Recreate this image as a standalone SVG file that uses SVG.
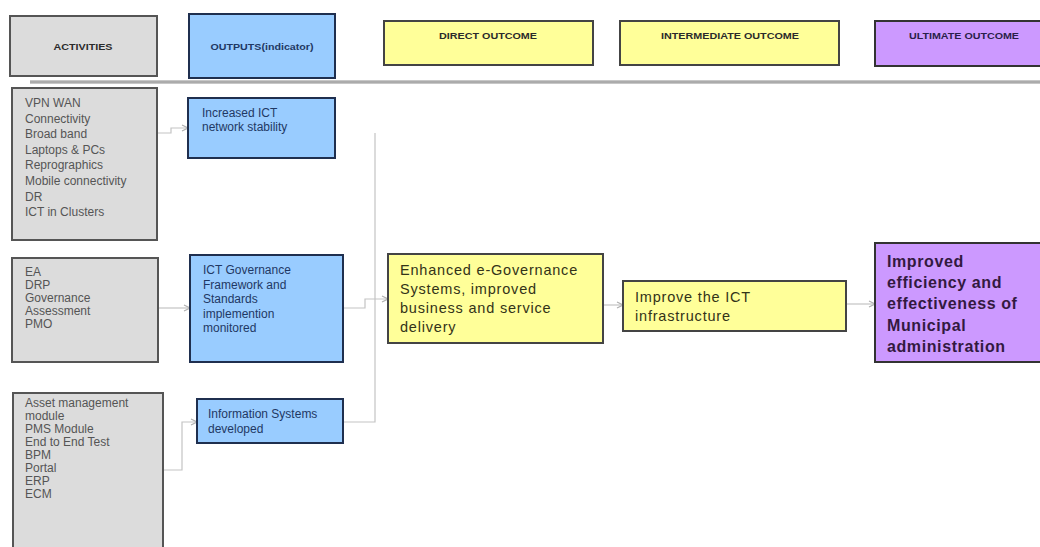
<svg xmlns="http://www.w3.org/2000/svg" width="1040" height="547" viewBox="0 0 1040 547">
  <style>
    .act { fill: #dcdcdc; stroke: #555; stroke-width: 2; }
    .out { fill: #99ccff; stroke: #1f2f4f; stroke-width: 2; }
    .yel { fill: #ffff99; stroke: #444; stroke-width: 2; }
    .pur { fill: #cc99ff; stroke: #333; stroke-width: 2; }
    .hdr { font-family: "Liberation Sans", Arial, sans-serif; font-size: 9px; font-weight: bold; fill: #2b2b2b; text-anchor: middle; }
    .tact { font-family: "Liberation Sans", Arial, sans-serif; font-size: 12px; fill: #555; }
    .tout { font-family: "Liberation Sans", Arial, sans-serif; font-size: 12px; fill: #1f3864; }
    .tyel { font-family: "Liberation Sans", Arial, sans-serif; font-size: 14.5px; fill: #333318; letter-spacing: 0.8px; }
    .tpur { font-family: "Liberation Sans", Arial, sans-serif; font-size: 16px; font-weight: bold; fill: #33193f; letter-spacing: 0.6px; }
    .conn { fill: none; stroke: #c4c4c4; stroke-width: 1.2; }
  </style>
  <defs>
    <marker id="arr" viewBox="0 0 8 8" refX="7" refY="4" markerWidth="8" markerHeight="8" markerUnits="userSpaceOnUse" orient="auto">
      <path d="M1,1 L7,4 L1,7" fill="none" stroke="#b0b0b0" stroke-width="1.2"/>
    </marker>
  </defs>
  <rect width="1040" height="547" fill="#ffffff"/>

  <!-- column headers -->
  <g id="hdr-activities">
    <rect class="act" x="10" y="16" width="147" height="60"/>
    <text class="hdr" x="83" y="50" textLength="59" lengthAdjust="spacingAndGlyphs">ACTIVITIES</text>
  </g>
  <g id="hdr-outputs">
    <rect class="out" x="189" y="14" width="146" height="64"/>
    <text class="hdr" x="262" y="50" textLength="103" lengthAdjust="spacingAndGlyphs" style="fill:#1f3864">OUTPUTS(indicator)</text>
  </g>
  <g id="hdr-direct">
    <rect class="yel" x="384" y="21" width="209" height="44"/>
    <text class="hdr" x="488" y="39" textLength="98" lengthAdjust="spacingAndGlyphs">DIRECT OUTCOME</text>
  </g>
  <g id="hdr-intermediate">
    <rect class="yel" x="620" y="21" width="219" height="44"/>
    <text class="hdr" x="730" y="39" textLength="138" lengthAdjust="spacingAndGlyphs">INTERMEDIATE OUTCOME</text>
  </g>
  <g id="hdr-ultimate">
    <rect class="pur" x="875" y="21" width="175" height="45"/>
    <text class="hdr" x="964" y="39" textLength="110" lengthAdjust="spacingAndGlyphs" style="fill:#2a1f4a">ULTIMATE OUTCOME</text>
  </g>

  <!-- header divider -->
  <line x1="30" y1="82" x2="1040" y2="82" stroke="#8f8f8f" stroke-width="3"/>
  <line x1="30" y1="82" x2="1040" y2="82" stroke="#c8c8c8" stroke-width="1"/>

  <!-- connectors -->
  <g id="connectors">
    <path class="conn" d="M157,133 H171 V128 H188" marker-end="url(#arr)"/>
    <path class="conn" d="M158,308 H190" marker-end="url(#arr)"/>
    <path class="conn" d="M163,470 H182 V422 H197" marker-end="url(#arr)"/>
    <path class="conn" d="M343,308 H365 V299 H388" marker-end="url(#arr)"/>
    <path class="conn" d="M343,422 H375 V133"/>
    <path class="conn" d="M603,305 H623" marker-end="url(#arr)"/>
    <path class="conn" d="M846,304 H875" marker-end="url(#arr)"/>
  </g>

  <!-- activities -->
  <g id="act-network">
    <rect class="act" x="12" y="88" width="145" height="152"/>
    <text class="tact" x="25">
      <tspan x="25" y="107">VPN  WAN</tspan>
      <tspan x="25" y="122.6">Connectivity</tspan>
      <tspan x="25" y="138.2">Broad band</tspan>
      <tspan x="25" y="153.8">Laptops  &amp; PCs</tspan>
      <tspan x="25" y="169.4">Reprographics</tspan>
      <tspan x="25" y="185">Mobile  connectivity</tspan>
      <tspan x="25" y="200.6">DR</tspan>
      <tspan x="25" y="216.2">ICT  in Clusters</tspan>
    </text>
  </g>
  <g id="act-governance">
    <rect class="act" x="12" y="258" width="146" height="104"/>
    <text class="tact">
      <tspan x="25" y="276">EA</tspan>
      <tspan x="25" y="289">DRP</tspan>
      <tspan x="25" y="302">Governance</tspan>
      <tspan x="25" y="315">Assessment</tspan>
      <tspan x="25" y="328">PMO</tspan>
    </text>
  </g>
  <g id="act-systems">
    <rect class="act" x="13" y="393" width="150" height="160"/>
    <text class="tact">
      <tspan x="25" y="407">Asset management</tspan>
      <tspan x="25" y="420">module</tspan>
      <tspan x="25" y="433">PMS Module</tspan>
      <tspan x="25" y="446">End to End Test</tspan>
      <tspan x="25" y="459">BPM</tspan>
      <tspan x="25" y="472">Portal</tspan>
      <tspan x="25" y="485">ERP</tspan>
      <tspan x="25" y="498">ECM</tspan>
    </text>
  </g>

  <!-- outputs -->
  <g id="out-network">
    <rect class="out" x="188" y="98" width="147" height="60"/>
    <text class="tout">
      <tspan x="202" y="117">Increased ICT</tspan>
      <tspan x="202" y="131">network  stability</tspan>
    </text>
  </g>
  <g id="out-governance">
    <rect class="out" x="190" y="255" width="153" height="107"/>
    <text class="tout">
      <tspan x="203" y="274">ICT Governance</tspan>
      <tspan x="203" y="288.5">Framework and</tspan>
      <tspan x="203" y="303">Standards</tspan>
      <tspan x="203" y="317.5">implemention</tspan>
      <tspan x="203" y="332">monitored</tspan>
    </text>
  </g>
  <g id="out-systems">
    <rect class="out" x="197" y="399" width="146" height="44"/>
    <text class="tout">
      <tspan x="208" y="418">Information  Systems</tspan>
      <tspan x="208" y="433">developed</tspan>
    </text>
  </g>

  <!-- outcomes -->
  <g id="direct-outcome">
    <rect class="yel" x="388" y="254" width="215" height="89"/>
    <text class="tyel">
      <tspan x="400" y="275">Enhanced e-Governance</tspan>
      <tspan x="400" y="294">Systems, improved</tspan>
      <tspan x="400" y="313">business and service</tspan>
      <tspan x="400" y="332">delivery</tspan>
    </text>
  </g>
  <g id="intermediate-outcome">
    <rect class="yel" x="623" y="281" width="223" height="50"/>
    <text class="tyel">
      <tspan x="635" y="302">Improve the ICT</tspan>
      <tspan x="635" y="321">infrastructure</tspan>
    </text>
  </g>
  <g id="ultimate-outcome">
    <rect class="pur" x="875" y="243" width="175" height="119"/>
    <text class="tpur">
      <tspan x="887" y="267">Improved</tspan>
      <tspan x="887" y="288">efficiency and</tspan>
      <tspan x="887" y="309">effectiveness of</tspan>
      <tspan x="887" y="331">Municipal</tspan>
      <tspan x="887" y="352">administration</tspan>
    </text>
  </g>
</svg>
